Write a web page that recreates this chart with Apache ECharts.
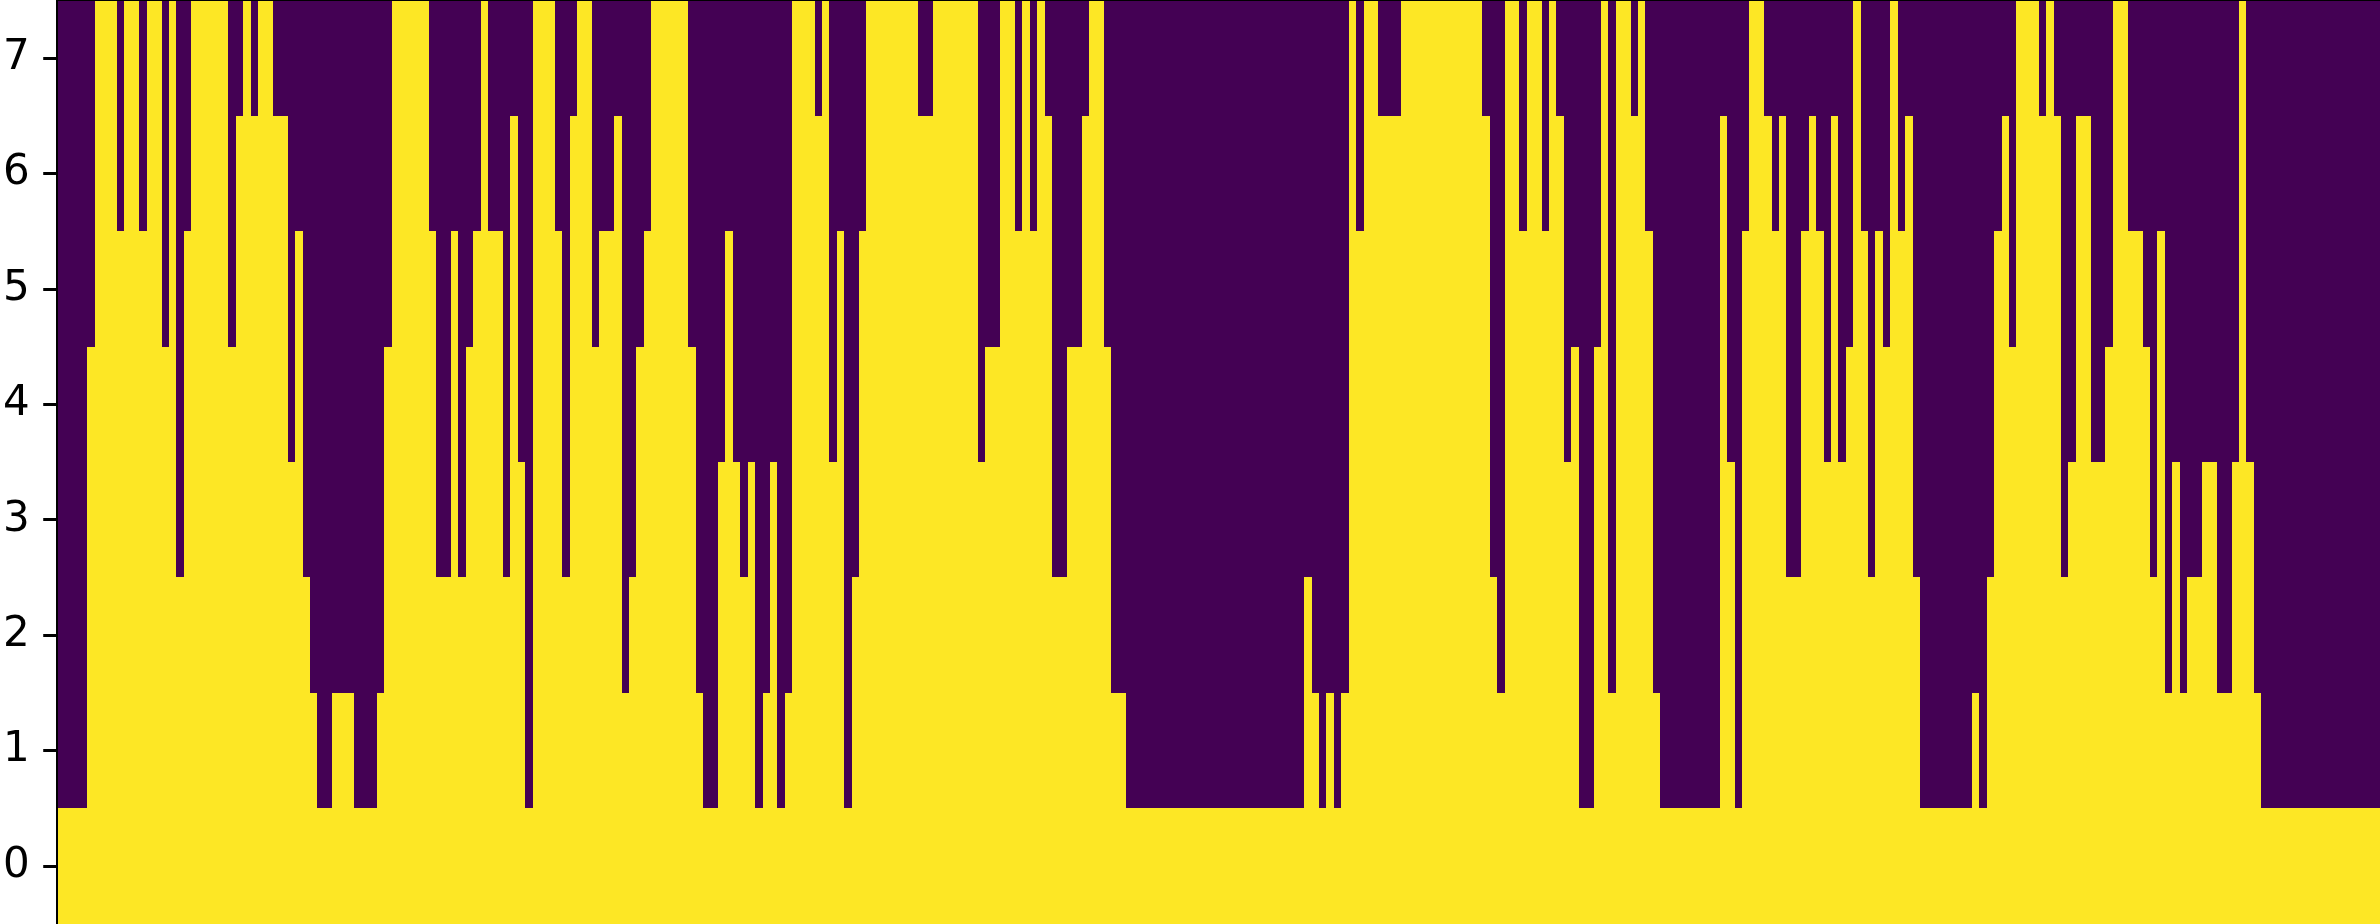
<!DOCTYPE html>
<html>
<head>
<meta charset="utf-8">
<style>html,body{margin:0;padding:0;background:#fff}#chart{width:2380px;height:924px}</style>
<script src="https://cdn.jsdelivr.net/npm/echarts@6/dist/echarts.min.js"></script>
</head>
<body>
<div id="chart"></div>
<script>
// Row labels, bottom to top
var rowLabels = ['0','1','2','3','4','5','6','7'];
// Number of filled (yellow) rows in each column, left to right
var columnHeights = [
1,1,1,1,5,8,8,8,6,8,8,6,8,8,5,8,3,6,8,8,8,8,8,5,7,8,7,8,8,7,7,4,6,3,2,1,1,2,2,2,1,1,1,2,5,
8,8,8,8,8,6,3,3,6,3,5,6,8,6,6,3,7,4,1,8,8,8,6,3,7,8,8,5,6,6,7,2,3,5,6,8,8,8,8,8,5,2,1,1,4,
6,4,3,4,1,2,4,1,2,8,8,8,7,8,4,6,1,3,6,8,8,8,8,8,8,8,7,7,8,8,8,8,8,8,4,5,5,8,8,6,8,6,8,7,3,
3,5,5,7,8,8,5,2,2,1,1,1,1,1,1,1,1,1,1,1,1,1,1,1,1,1,1,1,1,1,1,1,1,3,2,1,2,1,2,8,6,8,8,7,7,
7,8,8,8,8,8,8,8,8,8,8,8,7,3,2,8,8,6,8,8,6,8,7,4,5,1,1,5,8,2,8,8,7,8,6,2,1,1,1,1,1,1,1,1,7,
4,1,6,8,8,7,6,7,3,3,6,7,6,4,7,4,5,8,6,3,6,5,8,6,7,3,1,1,1,1,1,1,1,2,1,3,6,7,5,8,8,8,7,8,7,
3,4,7,7,4,4,5,8,8,6,6,5,3,6,2,4,2,3,3,4,4,2,2,4,8,4,2,1,1,1,1,1,1,1,1,1,1,1,1,1,1,1,1
];
var columnLabels = columnHeights.map(function (_, i) { return String(i); });
var cellColors = ['#440154', '#fde725'];

var cells = [];
columnHeights.forEach(function (h, col) {
  rowLabels.forEach(function (_, row) {
    cells.push([col, row, row < h ? 1 : 0]);
  });
});

function renderCell(params, api) {
  var c = api.coord([api.value(0), api.value(1)]);
  var s = api.size([1, 1]);
  var x0 = Math.round(c[0] - s[0] / 2), x1 = Math.round(c[0] + s[0] / 2);
  var y0 = Math.round(c[1] - s[1] / 2), y1 = Math.round(c[1] + s[1] / 2);
  return {
    type: 'rect',
    shape: { x: x0, y: y0, width: x1 - x0, height: y1 - y0 },
    style: { fill: cellColors[api.value(2)] }
  };
}

function spine(w) { return { show: true, onZero: false, lineStyle: { color: '#000', width: w } }; }
var chart = echarts.init(document.getElementById('chart'), null, { renderer: 'canvas' });
chart.setOption({
  animation: false,
  backgroundColor: '#fff',
  grid: { left: 55.5, top: 0.5, width: 2324.5, height: 923, containLabel: false },
  xAxis: [
    { type: 'category', data: columnLabels, position: 'bottom', axisLine: spine(2.6), axisTick: { show: false }, axisLabel: { show: false }, splitLine: { show: false } },
    { type: 'category', data: columnLabels, position: 'top', axisLine: spine(2.6), axisTick: { show: false }, axisLabel: { show: false }, splitLine: { show: false } }
  ],
  yAxis: [
    {
      type: 'category', data: rowLabels, position: 'left', axisLine: spine(3),
      axisTick: { show: true, alignWithLabel: true, length: 14.5, lineStyle: { color: '#000', width: 3 } },
      axisLabel: { show: true, interval: 0, color: '#000', fontFamily: 'DejaVu Sans', fontSize: 42, margin: 28 },
      splitLine: { show: false }
    },
    { type: 'category', data: rowLabels, position: 'right', axisLine: spine(2), axisTick: { show: false }, axisLabel: { show: false }, splitLine: { show: false } }
  ],
  series: [{
    type: 'custom', xAxisIndex: 0, yAxisIndex: 0, data: cells,
    encode: { x: 0, y: 1 },
    renderItem: renderCell,
    clip: false, silent: true, progressive: 0
  }]
});
</script>
</body>
</html>
